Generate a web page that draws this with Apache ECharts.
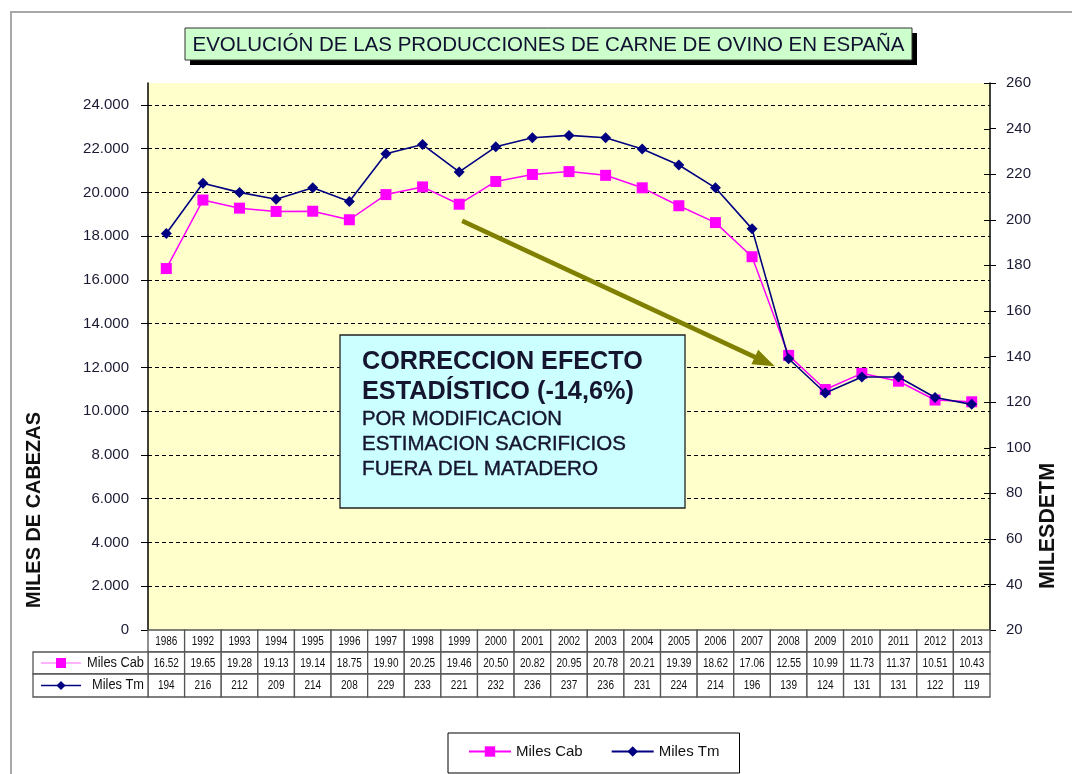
<!DOCTYPE html>
<html><head><meta charset="utf-8">
<script src="https://cdn.jsdelivr.net/npm/echarts@6/dist/echarts.min.js"></script>
<style>html,body{margin:0;padding:0;background:#fff}#c{width:1072px;height:774px}</style>
</head><body><div id="c"></div>
<script>
const years = ['1986','1992','1993','1994','1995','1996','1997','1998','1999','2000','2001','2002','2003','2004','2005','2006','2007','2008','2009','2010','2011','2012','2013'];
const milesCab = [16.52,19.65,19.28,19.13,19.14,18.75,19.90,20.25,19.46,20.50,20.82,20.95,20.78,20.21,19.39,18.62,17.06,12.55,10.99,11.73,11.37,10.51,10.43];
const milesTm = [194,216,212,209,214,208,229,233,221,232,236,237,236,231,224,214,196,139,124,131,131,122,119];
const titleText = 'EVOLUCIÓN DE LAS PRODUCCIONES DE CARNE DE OVINO EN ESPAÑA';
const noteLines = ['CORRECCION EFECTO','ESTADÍSTICO (-14,6%)','POR MODIFICACION','ESTIMACION SACRIFICIOS','FUERA DEL MATADERO'];
const seriesNames = ['Miles Cab','Miles Tm'];

const cv = document.createElement('canvas').getContext('2d');
function measure(text, font){cv.font=font;return cv.measureText(text).width;}
function fit(text, weight, fam, target){return 100*target/measure(text, weight+' 100px '+fam);}

const txtColor = '#1a1a33';
const chart = echarts.init(document.getElementById('c'));
chart.setOption({
  animation:false,
  backgroundColor:'#fff',
  grid:{left:148,right:82,top:83,bottom:144,show:true,backgroundColor:'#ffffcc',borderWidth:0},
  legend:{left:448,top:733,borderColor:'#000',borderWidth:1,padding:[11,20,14,20],itemGap:28,itemWidth:42,itemHeight:13,
    textStyle:{fontSize:15,color:'#111',fontFamily:'Liberation Sans'},data:seriesNames},
  xAxis:{type:'category',data:years,boundaryGap:true,axisLine:{lineStyle:{color:'#000',width:1}},axisTick:{show:false},axisLabel:{show:false},splitLine:{show:false}},
  yAxis:[
    {type:'value',min:0,max:25,interval:2,position:'left',
      axisLine:{show:true,lineStyle:{color:'#000',width:1.5}},
      axisTick:{show:true,length:7,lineStyle:{color:'#000'}},
      axisLabel:{showMaxLabel:false,margin:19,fontSize:15,color:txtColor,fontFamily:'Liberation Sans',formatter:v=>v===0?'0':v.toFixed(3)},
      splitLine:{show:true,showMaxLine:false,lineStyle:{color:'#000',type:[4,3],width:1.2}}},
    {type:'value',min:20,max:260,interval:20,position:'right',
      axisLine:{show:true,lineStyle:{color:'#000',width:1.5}},
      axisTick:{show:true,length:6,lineStyle:{color:'#000'}},
      axisLabel:{margin:16,fontSize:15,color:txtColor,fontFamily:'Liberation Sans'},
      splitLine:{show:false}}
  ],
  series:[
    {name:seriesNames[0],type:'line',yAxisIndex:0,data:milesCab,symbol:'rect',symbolSize:11,
      lineStyle:{color:'#ff00ff',width:1.5},itemStyle:{color:'#ff00ff'},z:3},
    {name:seriesNames[1],type:'line',yAxisIndex:1,data:milesTm,symbol:'diamond',symbolSize:11,
      lineStyle:{color:'#000080',width:1.6},itemStyle:{color:'#000080'},z:4}
  ]
});

const px = i => chart.convertToPixel({xAxisIndex:0}, i);
const py = v => chart.convertToPixel({yAxisIndex:0}, v);
const pyR = v => chart.convertToPixel({yAxisIndex:1}, v);
const bw = px(1)-px(0);
const gl = px(0)-bw/2;
const gr = px(years.length-1)+bw/2;
const y0 = py(0);
const rowH = [22,22,23];
const rowTop = [y0, y0+rowH[0], y0+rowH[0]+rowH[1]];
const g = [];
// outer frame
g.push({type:'rect',shape:{x:11,y:12,width:1120,height:820},style:{fill:'none',stroke:'#a8a8a8',lineWidth:2},silent:true});
// right-axis inner tick halves (ticks cross the axis line)
for(let v=20; v<=260; v+=20){
  const yy = Math.round(pyR(v))+0.5;
  g.push({type:'line',shape:{x1:gr-6,y1:yy,x2:gr,y2:yy},style:{stroke:'#000',lineWidth:1},z:5});
}
// title (condensed by horizontal scaling)
const tFont = 'normal 21px Liberation Sans';
const tsx = 712/measure(titleText,tFont);
g.push({type:'rect',shape:{x:190,y:33,width:727,height:32},style:{fill:'#000'}});
g.push({type:'rect',shape:{x:185,y:28,width:727,height:32},style:{fill:'#ccffcc',stroke:'#333',lineWidth:1}});
g.push({type:'text',x:548.5,y:45,scaleX:tsx,style:{text:titleText,font:tFont,fill:'#101030',align:'center',verticalAlign:'middle'}});
// table
const cellFont = '12.5px Liberation Sans';
const csx = 0.8;
const rows = [years, milesCab.map(v=>v.toFixed(2)), milesTm.map(String)];
for(let r=0;r<3;r++){
  for(let i=0;i<years.length;i++){
    const x = gl+i*bw;
    g.push({type:'rect',shape:{x:x,y:rowTop[r],width:bw,height:rowH[r]},style:{fill:'#fff',stroke:'#555',lineWidth:1.3},z:10});
    g.push({type:'text',x:x+bw/2,y:rowTop[r]+rowH[r]/2+0.5,scaleX:csx,style:{text:rows[r][i],font:cellFont,fill:'#111',align:'center',verticalAlign:'middle'},z:11});
  }
}
// table legend cells
const lx = 33;
const lFont = '14px Liberation Sans';
const lsx = 57/measure('Miles Cab',lFont);
for(let r=1;r<3;r++){
  g.push({type:'rect',shape:{x:lx,y:rowTop[r],width:gl-lx,height:rowH[r]},style:{fill:'#fff',stroke:'#555',lineWidth:1.3},z:10});
  const cy = rowTop[r]+rowH[r]/2;
  const col = r===1?'#ff99ff':'#000080';
  g.push({type:'line',shape:{x1:lx+8,y1:cy,x2:lx+48,y2:cy},style:{stroke:col,lineWidth:1.5},z:11});
  if(r===1) g.push({type:'rect',shape:{x:lx+23,y:cy-5,width:10,height:10},style:{fill:'#ff00ff'},z:12});
  else g.push({type:'polygon',shape:{points:[[lx+28,cy-4.5],[lx+32.5,cy],[lx+28,cy+4.5],[lx+23.5,cy]]},style:{fill:'#000080'},z:12});
  g.push({type:'text',x:gl-4,y:cy,scaleX:lsx,style:{text:seriesNames[r-1],font:lFont,fill:'#111',align:'right',verticalAlign:'middle'},z:11});
}
// axis titles
const lt = fit('MILES DE CABEZAS','bold','Liberation Sans',196);
g.push({type:'text',x:35,y:510,rotation:Math.PI/2,style:{text:'MILES DE CABEZAS',font:'bold '+lt.toFixed(2)+'px Liberation Sans',fill:'#111',align:'center',verticalAlign:'middle'}});
const rt = fit('MILESDETM','bold','Liberation Sans',126);
g.push({type:'text',x:1048,y:526,rotation:Math.PI/2,style:{text:'MILESDETM',font:'bold '+rt.toFixed(2)+'px Liberation Sans',fill:'#111',align:'center',verticalAlign:'middle'}});
// annotation box
g.push({type:'rect',shape:{x:340,y:335,width:345,height:173},style:{fill:'#ccffff',stroke:'#222',lineWidth:1.3},z:20});
const nW = [281,272,200,264,236];
const nY = [362,392,419,444,469];
noteLines.forEach((t,k)=>{
  const w = k<2?'bold':'normal';
  const fs = fit(t,w,'Liberation Sans',nW[k]);
  g.push({type:'text',x:362,y:nY[k],style:{text:t,font:w+' '+fs.toFixed(2)+'px Liberation Sans',fill:'#151530',stroke:k<2?null:'#151530',lineWidth:k<2?0:0.4,align:'left',verticalAlign:'middle'},z:21});
});
// arrow, anchored to data coordinates
const sx = px(8)+3, sy = py(18.7);
const tx = px(16)+0.62*bw, ty = py(12.05);
const dx = tx-sx, dy = ty-sy, L = Math.hypot(dx,dy), ux = dx/L, uy = dy/L;
const hb = 22, hw = 8;
const bx = tx-ux*hb, by = ty-uy*hb;
g.push({type:'line',shape:{x1:sx,y1:sy,x2:bx+ux*2,y2:by+uy*2},style:{stroke:'#808000',lineWidth:4.5},z:15});
g.push({type:'polygon',shape:{points:[[tx,ty],[bx-uy*hw,by+ux*hw],[bx+uy*hw,by-ux*hw]]},style:{fill:'#808000'},z:15});
chart.setOption({graphic:g});
</script></body></html>
